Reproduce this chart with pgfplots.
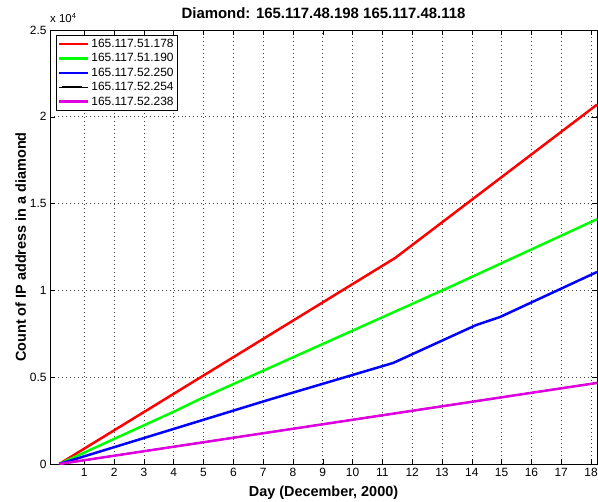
\documentclass[border=0pt]{standalone}
\usepackage{fontspec}
\setmainfont{Liberation Sans}
\usepackage{pgfplots}
\pgfplotsset{compat=1.18}
\definecolor{mred}{rgb}{1,0,0}
\definecolor{mgreen}{rgb}{0,1,0}
\definecolor{mblue}{rgb}{0,0,1}
\definecolor{mmag}{rgb}{0.87,0,0.87}
\begin{document}
\begin{tikzpicture}
\begin{axis}[
  name=ax,
  scale only axis,
  width=547bp, height=434bp,
  xmin=-0.15, xmax=18.2,
  ymin=0, ymax=25000,
  xtick={1,2,...,18},
  ytick={0,5000,10000,15000,20000,25000},
  yticklabels={0,0.5,1,1.5,2,2.5},
  scaled y ticks=false,
  /pgf/number format/assume math mode=true,
  tick label style={font=\fontsize{12}{13}\selectfont},
  xticklabel style={yshift=-1bp},
  tick align=inside,
  major tick length=5bp,
  tick style={black, line width=0.5pt},
  axis line style={line width=0.8pt},
  grid=major,
  major grid style={dash pattern=on 0.6pt off 3.4pt, black!75, line width=0.6pt},
  title={\bfseries Diamond: 165.117.48.198 165.117.48.118},
  title style={font=\fontsize{15}{17}\selectfont, yshift=2bp},
  xlabel={\bfseries Day (December, 2000)},
  ylabel={\bfseries Count of IP address in a diamond},
  label style={font=\fontsize{14.5}{16}\selectfont},
  xlabel style={yshift=-2bp},
  ylabel style={yshift=-3bp},
  legend style={font=\fontsize{12}{13}\selectfont, draw=black, line width=0.8pt, inner sep=1.5pt, row sep=0.6pt, at={(0.011,0.988)}, anchor=north west},
  legend cell align=left,
  legend image code/.code={\fill[#1, draw=none] (3bp,-1.2bp) rectangle (23bp,1.2bp); \path (0bp,0bp) -- (29bp,0bp);},
]
\addplot[mred, line width=2.5pt] coordinates {(0.16,0) (11.43,11870) (18.2,20700)};
\addplot[mgreen, line width=2.5pt] coordinates {(0.16,0) (4.0,3010) (4.88,3740) (13.27,10200) (18.2,14100)};
\addplot[mblue, line width=2.5pt] coordinates {(0.16,0) (7.17,3690) (11.36,5820) (14.14,8000) (14.95,8470) (18.2,11060)};
\addplot[black, line width=1.5pt] coordinates {(0.16,0) (18.2,4670)};
\addplot[mmag, line width=2.5pt] coordinates {(0.16,0) (18.2,4670)};
\legend{165.117.51.178,165.117.51.190,165.117.52.250,165.117.52.254,165.117.52.238}
\end{axis}
\node[anchor=south west, font=\fontsize{11.5}{12}\selectfont, inner sep=0pt] at ([xshift=0bp,yshift=7bp]ax.north west) {x 10\raisebox{0.7ex}{\fontsize{7.5}{8}\selectfont 4}};
\pgfresetboundingbox
\path ([xshift=-50bp,yshift=-38bp]ax.south west) rectangle ([xshift=1bp,yshift=30bp]ax.north east);
\end{tikzpicture}
\end{document}
